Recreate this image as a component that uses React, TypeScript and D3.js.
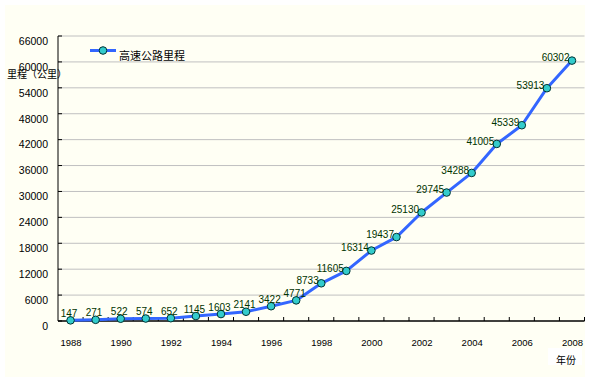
import React from "react";
import * as d3 from "d3";

const years = [
  "1988", "1989", "1990", "1991", "1992", "1993", "1994", "1995", "1996", "1997",
  "1998", "1999", "2000", "2001", "2002", "2003", "2004", "2005", "2006", "2007", "2008",
];
const mileage = [
  147, 271, 522, 574, 652, 1145, 1603, 2141, 3422, 4771,
  8733, 11605, 16314, 19437, 25130, 29745, 34288, 41005, 45339, 53913, 60302,
];
const yTicks = [0, 6000, 12000, 18000, 24000, 30000, 36000, 42000, 48000, 54000, 60000, 66000];
const xTickLabels = ["1988", "1990", "1992", "1994", "1996", "1998", "2000", "2002", "2004", "2006", "2008"];
const seriesName = "高速公路里程";
const yTitle = "里程（公里）";
const xTitle = "年份";

const W = 591;
const H = 381;
const L = 58;
const R = 584.5;
const T = 36;
const B = 321;

export default function App() {
  const x = d3.scaleBand<string>().domain(years).range([L, R]);
  const y = d3.scaleLinear().domain([0, 66000]).range([B, T]);
  const cx = (yr: string) => (x(yr) as number) + x.bandwidth() / 2;
  const line = d3
    .line<number>()
    .x((_, i) => cx(years[i]))
    .y((d) => y(d));
  const num = "'Liberation Sans', Arial, sans-serif";
  const cjk = "'Noto Sans CJK SC', sans-serif";

  return (
    <svg
      width={W}
      height={H}
      style={{ position: "absolute", left: 0, top: 0, background: "#ffffff" }}
    >
      <rect x={5} y={5} width={580} height={372} fill="#FFFFF4" />
      {/* gridlines */}
      {yTicks.filter((t) => t > 0).map((t) => (
        <line key={t} x1={L} x2={R} y1={y(t)} y2={y(t)} stroke="#C0C0C0" strokeWidth={1} />
      ))}
      {/* y tick marks */}
      {yTicks.map((t) => (
        <line key={"yt" + t} x1={L} x2={L + 4} y1={y(t)} y2={y(t)} stroke="#000" strokeWidth={1} />
      ))}
      {/* axes */}
      <line x1={L} x2={L} y1={T} y2={B} stroke="#000" strokeWidth={1} />
      <line x1={L} x2={R} y1={B} y2={B} stroke="#000" strokeWidth={1.5} />
      {/* x tick marks between categories */}
      {years.map((yr) => (
        <line
          key={"xt" + yr}
          x1={(x(yr) as number) + x.bandwidth()}
          x2={(x(yr) as number) + x.bandwidth()}
          y1={B}
          y2={B - 4}
          stroke="#000"
          strokeWidth={1}
        />
      ))}
      {/* y labels */}
      {yTicks.map((t) => (
        <text
          key={"yl" + t}
          x={48}
          y={y(t) + 6}
          textAnchor="end"
          dominantBaseline="middle"
          fontFamily={num}
          fontSize={10.5}
          fill="#000"
        >
          {t}
        </text>
      ))}
      {/* x labels */}
      {xTickLabels.map((yr) => (
        <text
          key={"xl" + yr}
          x={cx(yr) + 0.5}
          y={343}
          textAnchor="middle"
          dominantBaseline="middle"
          fontFamily={num}
          fontSize={9.5}
          fill="#000"
        >
          {yr}
        </text>
      ))}
      {/* line */}
      <path d={line(mileage) || ""} fill="none" stroke="#3366FF" strokeWidth={3} strokeLinejoin="round" />
      {mileage.map((v, i) => (
        <circle key={"c" + i} cx={cx(years[i])} cy={y(v)} r={3.8} fill="#33CCCC" stroke="#003333" strokeWidth={1} />
      ))}
      {/* data labels */}
      {mileage.map((v, i) => {
        const px = cx(years[i]);
        const py = y(v);
        const early = i < 10;
        return (
          <text
            key={"dl" + i}
            x={early ? px - 1.5 : px - 2.5}
            y={early ? py - 6 : py - 2}
            textAnchor={early ? "middle" : "end"}
            dominantBaseline="middle"
            fontFamily={num}
            fontSize={10}
            fill="#003300"
          >
            {v}
          </text>
        );
      })}
      {/* y title */}
      <text x={7} y={75} dominantBaseline="middle" fontFamily={cjk} fontSize={10} fill="#000">
        {yTitle}
      </text>
      {/* legend */}
      <line x1={90} x2={116} y1={50.5} y2={50.5} stroke="#3366FF" strokeWidth={3} />
      <circle cx={103} cy={50.5} r={3.8} fill="#33CCCC" stroke="#003333" strokeWidth={1} />
      <text x={119} y={57} dominantBaseline="middle" fontFamily={cjk} fontSize={11} fill="#000">
        {seriesName}
      </text>
      {/* x title */}
      <rect x={548} y={348} width={34} height={17} fill="#ffffff" />
      <text x={556} y={361} dominantBaseline="middle" fontFamily={cjk} fontSize={10} fill="#000">
        {xTitle}
      </text>
    </svg>
  );
}
